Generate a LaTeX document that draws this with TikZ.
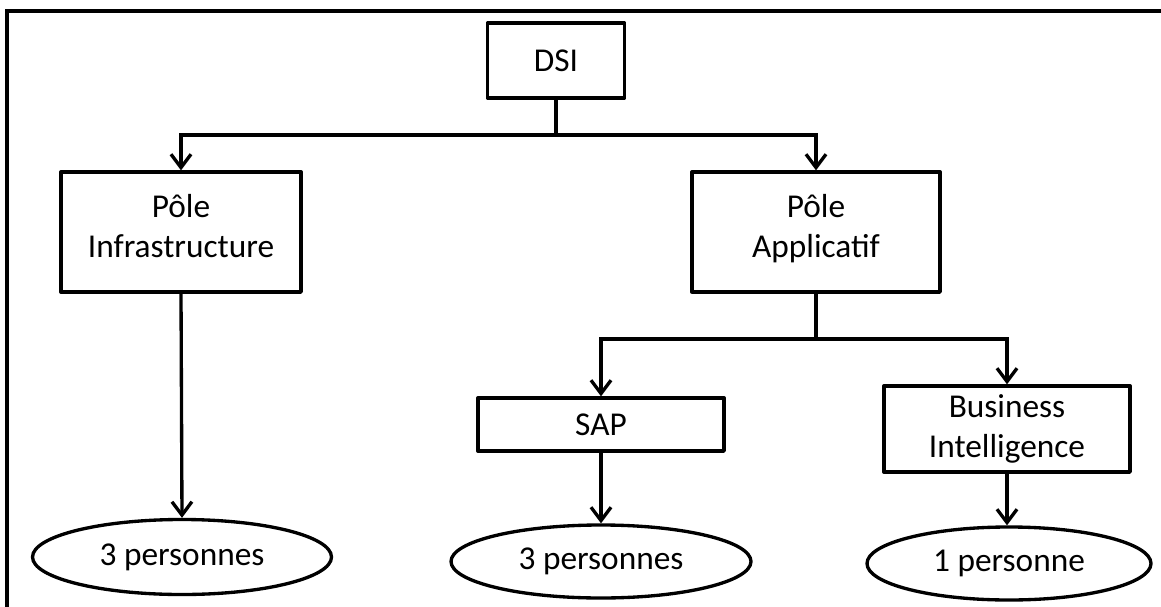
\documentclass[tikz,border=0pt]{standalone}
\usepackage{fontspec}
\setmainfont{Carlito}
\usetikzlibrary{shapes.geometric,arrows.meta}
\begin{document}
\begin{tikzpicture}[x=0.75pt,y=-0.75pt,
  every node/.style={font=\fontsize{25}{30}\selectfont, align=center, inner sep=0pt},
  box/.style={draw, line width=2.5pt, rectangle, line join=round},
  pers/.style={draw, line width=2.5pt, ellipse},
  link/.style={line width=2.5pt},
  arr/.style={line width=2.5pt, -{Straight Barb[length=10pt,width=15pt,line width=2.5pt]}}]
\useasboundingbox (0,0) rectangle (1161,607);
\draw[line width=2.5pt] (7,607) -- (7,11) -- (1161,11);
\node[box, minimum width=102.75pt, minimum height=56.25pt] (dsi) at (556,60.5) {DSI};
\node[box, minimum width=180pt, minimum height=90pt] (infra) at (181,232) {Pôle\\Infrastructure\strut};
\node[box, minimum width=186pt, minimum height=90pt] (appl) at (816,232) {Pôle\\Applicatif\strut};
\node[box, minimum width=184.5pt, minimum height=39.75pt] (sap) at (601,424.5) {SAP};
\node[box, minimum width=184.5pt, minimum height=64.5pt] (bi) at (1007,429) {Business\\Intelligence};
\node[pers, minimum width=224.25pt, minimum height=56.25pt] (p1) at (182,557) {3 personnes};
\node[pers, minimum width=225pt, minimum height=54.75pt] (p2) at (601,561.5) {3 personnes};
\node[pers, minimum width=213pt, minimum height=54.75pt] (p3) at (1009,563.5) {1 personne};
\coordinate (j1) at (556,135);
\coordinate (j2) at (816,339);
\draw[link] (dsi.south) -- (j1);
\draw[arr] (j1) -| (infra.north);
\draw[arr] (j1) -| (appl.north);
\draw[link] (appl.south) -- (j2);
\draw[arr] (j2) -| (sap.north);
\draw[arr] (j2) -| (bi.north);
\draw[arr] (infra.south) -- (p1.north);
\draw[arr] (sap.south) -- (sap.south |- p2.north);
\draw[arr] (bi.south) -- (bi.south |- p3.north);
\end{tikzpicture}
\end{document}
